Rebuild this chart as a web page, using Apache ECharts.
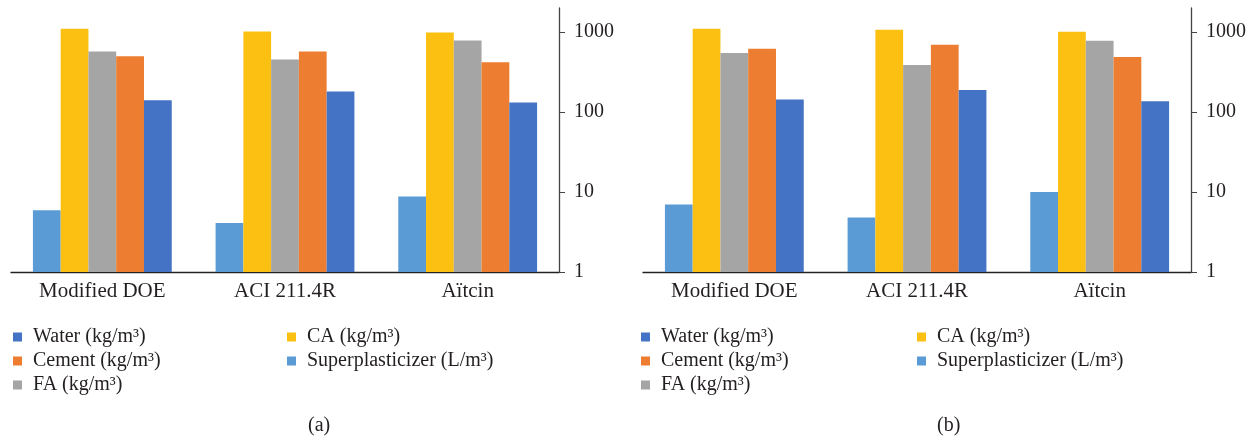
<!DOCTYPE html>
<html>
<head>
<meta charset="utf-8">
<script src="https://cdn.jsdelivr.net/npm/echarts@6/dist/echarts.min.js"></script>
<style>html,body{margin:0;padding:0;background:#fff}#c{width:1258px;height:439px}</style>
</head>
<body>
<div id="c"></div>
<script>
const categories = ['Modified DOE', 'ACI 211.4R', 'Aïtcin'];
const seriesNames = ['Superplasticizer (L/m³)', 'CA (kg/m³)', 'FA (kg/m³)', 'Cement (kg/m³)', 'Water (kg/m³)'];
const yTicks = [1, 10, 100, 1000];
// panel (a)
const spA = [5.9, 4.1, 8.8];
const caA = [1100, 1020, 990];
const faA = [573, 455, 787];
const cementA = [497, 573, 418];
const waterA = [140, 181, 132];
// panel (b)
const spB = [7.0, 4.8, 10];
const caB = [1100, 1070, 1010];
const faB = [549, 387, 778];
const cementB = [617, 692, 489];
const waterB = [144, 188, 136];

const colors = ['#5B9BD5', '#FBC012', '#A5A5A5', '#ED7D31', '#4472C4'];
const FONT = '"Liberation Serif", "Times New Roman", serif';
const TXT = '#231f20';

const dataA = [spA, caA, faA, cementA, waterA];
const dataB = [spB, caB, faB, cementB, waterB];

function xAx(i) {
  return {
    type: 'category', gridIndex: i, data: categories,
    axisLine: {lineStyle: {color: '#222', width: 1.3}},
    axisTick: {show: false},
    axisLabel: {fontFamily: FONT, fontSize: 21, color: TXT, margin: 9}
  };
}
function yAx(i) {
  return {
    type: 'log', gridIndex: i, logBase: 10, min: 1, max: 2000, position: 'right',
    axisLine: {show: true, lineStyle: {color: '#444', width: 1.3}},
    axisTick: {show: true, inside: false, length: 6, customValues: yTicks, lineStyle: {color: '#444'}},
    axisLabel: {customValues: yTicks, formatter: v => String(Math.round(v)), fontFamily: FONT, fontSize: 20, color: TXT, margin: 15},
    splitLine: {show: false}
  };
}
const series = [];
[dataA, dataB].forEach((d, gi) => {
  d.forEach((vals, si) => {
    series.push({
      type: 'bar', name: seriesNames[si], xAxisIndex: gi, yAxisIndex: gi,
      data: vals, barGap: '0%', barCategoryGap: '24%',
      itemStyle: {color: colors[si]}
    });
  });
});
function leg(left, names) {
  return {
    orient: 'vertical', left: left, top: 322, itemWidth: 9, itemHeight: 9, itemGap: 4,
    icon: 'rect', data: names, selectedMode: false,
    textStyle: {fontFamily: FONT, fontSize: 20, color: TXT, padding: [0, 0, 0, 6]}
  };
}
const col1 = [seriesNames[4], seriesNames[3], seriesNames[2]];
const col2 = [seriesNames[1], seriesNames[0]];
const chart = echarts.init(document.getElementById('c'));
chart.setOption({
  animation: false,
  color: colors,
  grid: [
    {left: 11, right: 699, top: 8, bottom: 167},
    {left: 643, right: 67, top: 8, bottom: 167}
  ],
  xAxis: [xAx(0), xAx(1)],
  yAxis: [yAx(0), yAx(1)],
  legend: [leg(8, col1), leg(282, col2), leg(636, col1), leg(912, col2)],
  title: [
    {text: '(a)', left: 303, top: 411, textStyle: {fontFamily: FONT, fontSize: 20, fontWeight: 'normal', color: TXT}},
    {text: '(b)', left: 932, top: 411, textStyle: {fontFamily: FONT, fontSize: 20, fontWeight: 'normal', color: TXT}}
  ],
  series: series
});
</script>
</body>
</html>
